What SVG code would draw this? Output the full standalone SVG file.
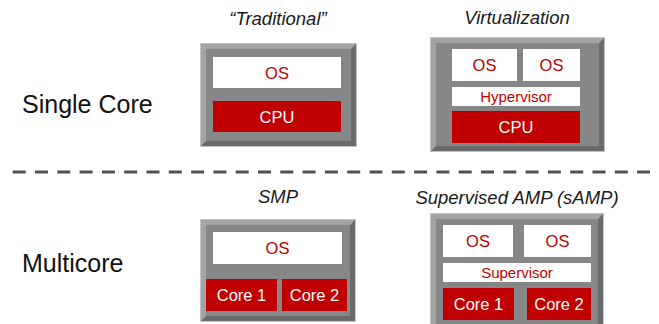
<svg xmlns="http://www.w3.org/2000/svg" width="659" height="324" viewBox="0 0 659 324">
<style>
text{font-family:"Liberation Sans",Arial,sans-serif}
.title{font-size:18.5px;font-style:italic;fill:#1a1a1a;text-anchor:middle}
.side{font-size:25px;fill:#111}
.edge{fill:#6a6a6a;stroke:#c4c4c4;stroke-width:1}
.hi{fill:#a3a3a3}
.face{fill:#878787}
.w{fill:#ffffff}
.r{fill:#c00000}
.tw{font-size:16.5px;fill:#c00000;text-anchor:middle}
.tr{font-size:16.5px;fill:#ffffff;text-anchor:middle}
.ts{font-size:15px;fill:#c00000;text-anchor:middle}
.dash{stroke:#505050;stroke-width:3;stroke-dasharray:13 9.3;fill:none}
</style>
<rect width="659" height="324" fill="#ffffff"/>
<g id="labels">
<text class="side" x="22" y="113">Single Core</text>
<text class="side" x="22" y="272">Multicore</text>
<text class="title" x="278" y="25">“Traditional”</text>
<text class="title" x="517" y="24">Virtualization</text>
<text class="title" x="278" y="203">SMP</text>
<text class="title" x="517" y="204">Supervised AMP (sAMP)</text>
</g>
<g id="connectors">
<line class="dash" x1="12.7" y1="172" x2="650" y2="172"/>
</g>
<g id="traditional">
<rect class="edge" x="200.5" y="43.5" width="156" height="103"/>
<polygon class="hi" points="201,44 356,44 351,49 206,49 206,141 201,146"/>
<rect class="face" x="206" y="49" width="145" height="92"/>
<rect class="w" x="213" y="57" width="128" height="31"/>
<text class="tw" x="277" y="78.5">OS</text>
<rect class="r" x="213" y="101" width="128" height="31"/>
<text class="tr" x="277" y="122.5">CPU</text>
</g>
<g id="virtualization">
<rect class="edge" x="430.5" y="37.5" width="174" height="114"/>
<polygon class="hi" points="431,38 604,38 599,43 436,43 436,146 431,151"/>
<rect class="face" x="436" y="43" width="163" height="103"/>
<rect class="w" x="452" y="49" width="65" height="32"/>
<text class="tw" x="484.5" y="71">OS</text>
<rect class="w" x="523" y="49" width="57" height="32"/>
<text class="tw" x="551.5" y="71">OS</text>
<rect class="w" x="452" y="87" width="128" height="19"/>
<text class="ts" x="516" y="102">Hypervisor</text>
<rect class="r" x="452" y="111" width="128" height="32"/>
<text class="tr" x="516" y="133">CPU</text>
</g>
<g id="smp">
<rect class="edge" x="200.5" y="219.5" width="155" height="102"/>
<polygon class="hi" points="201,220 355,220 350,225 206,225 206,316 201,321"/>
<rect class="face" x="206" y="225" width="144" height="91"/>
<rect class="w" x="213" y="232" width="129" height="32"/>
<text class="tw" x="277.5" y="254">OS</text>
<rect class="r" x="206" y="279" width="71" height="32"/>
<text class="tr" x="241.5" y="301">Core 1</text>
<rect class="r" x="282" y="279" width="65" height="32"/>
<text class="tr" x="314.5" y="301">Core 2</text>
</g>
<g id="samp">
<rect class="edge" x="430.5" y="213.5" width="173" height="117"/>
<polygon class="hi" points="431,214 603,214 598,219 436,219 436,325 431,330"/>
<rect class="face" x="436" y="219" width="162" height="106"/>
<rect class="w" x="443" y="225" width="70" height="32"/>
<text class="tw" x="478" y="247">OS</text>
<rect class="w" x="524" y="225" width="67" height="32"/>
<text class="tw" x="557.5" y="247">OS</text>
<rect class="w" x="443" y="263" width="148" height="19"/>
<text class="ts" x="517" y="278">Supervisor</text>
<rect class="r" x="443" y="288" width="71" height="32"/>
<text class="tr" x="478.5" y="310">Core 1</text>
<rect class="r" x="527" y="288" width="64" height="32"/>
<text class="tr" x="559" y="310">Core 2</text>
</g>
</svg>
